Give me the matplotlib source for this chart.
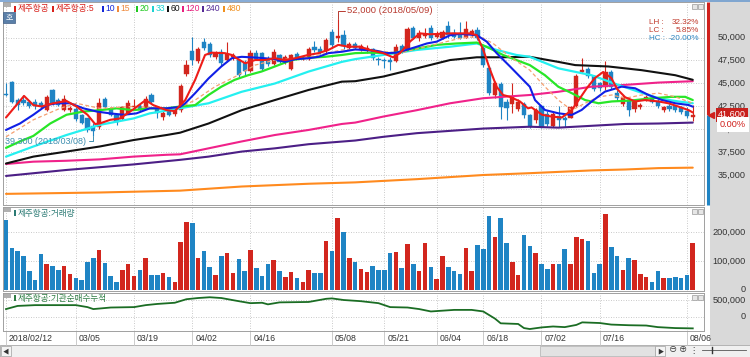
import matplotlib
matplotlib.use('Agg')
import matplotlib.pyplot as plt
from matplotlib.patches import Rectangle
import numpy as np

plt.rcParams['font.family'] = ['Liberation Sans', 'Noto Sans CJK KR', 'DejaVu Sans']

W, H = 750, 357

# ---------------- data ----------------
date_labels = ['2018/02/12', '03/05', '03/19', '04/02', '04/16', '05/08',
               '05/21', '06/04', '06/18', '07/02', '07/16', '08/06']
label_idx = [0, 12, 22, 32, 42, 56, 65, 74, 82, 92, 102, 117]

opens = [43850, 45200, 43200, 43200, 43000, 43000, 42900, 42100, 44300, 43200,
         42100, 42100, 42200, 41600, 41200, 40400, 40300, 43300, 42200, 41600,
         41100, 41800, 42400, 42600, 42300, 43700, 42400, 41400, 42100, 41700,
         42100, 46000, 48500, 47400, 49500, 49300, 47900, 48400, 47600, 47900,
         47600, 47200, 46400, 48300, 48300, 47600, 47100, 48100, 47300, 46600,
         48200, 47700, 47700, 49000, 48800, 48500, 50600, 49900, 50300, 48900,
         49300, 48700, 48600, 48700, 47700, 47600, 47600, 47400, 49100, 48800,
         51000, 49900, 50200, 51000, 50100, 50000, 51200, 50500, 50300, 50000,
         50400, 50800, 48900, 46700, 43700, 44900, 43000, 42800, 42200, 42800,
         41600, 41000, 42500, 41700, 40400, 41500, 41300, 41300, 42500, 46300,
         46600, 45800, 45000, 44600, 46300, 44000, 42800, 43200, 42200, 42400,
         43300, 43400, 43100, 42100, 42600, 42500, 42400, 42000, 41400]
highs = [45000, 45300, 43400, 43700, 43200, 43300, 43100, 43700, 44400, 43400,
         43700, 42500, 42400, 41700, 41300, 40700, 43400, 43500, 42300, 41700,
         42500, 43200, 43300, 42800, 43600, 44000, 42500, 42200, 42200, 42300,
         44900, 47600, 50100, 49000, 49900, 49500, 48500, 48800, 49500, 48300,
         47700, 47500, 48600, 48600, 48400, 48000, 48700, 48200, 48100, 48200,
         48400, 48000, 49000, 49600, 49100, 49900, 50900, 52000, 50800, 49500,
         49500, 49300, 49200, 48900, 47900, 47800, 47900, 49300, 49300, 51100,
         51300, 50800, 51000, 51400, 50700, 50800, 51800, 50900, 51700, 51800,
         50900, 51100, 49200, 46900, 45300, 45200, 43300, 45000, 43300, 43000,
         41700, 42300, 42700, 42000, 41900, 42500, 41500, 42600, 46000, 47800,
         46800, 45900, 45200, 47400, 46500, 44300, 43800, 43400, 43300, 42900,
         43700, 43600, 43300, 42600, 42800, 42700, 42600, 42400, 42700]
lows = [43600, 42900, 42100, 42700, 42300, 42200, 42300, 42000, 42700, 42500,
        42000, 41900, 40900, 40600, 39700, 39300, 40100, 42300, 41500, 40500,
        41000, 41700, 42100, 42000, 42200, 42900, 41200, 41000, 41500, 41500,
        41900, 45800, 47000, 47200, 48600, 47900, 47700, 46900, 47400, 47500,
        45700, 45900, 46200, 47600, 46400, 46900, 47000, 47200, 47100, 46500,
        47700, 47500, 47600, 48400, 48200, 48300, 48900, 49500, 48800, 48600,
        48700, 48500, 48300, 47600, 47000, 46700, 46500, 47300, 48300, 48700,
        49800, 49600, 49900, 49700, 49900, 49800, 50000, 49900, 49800, 49900,
        50100, 49700, 46800, 43800, 43400, 41100, 41000, 41800, 42000, 41300,
        40200, 40700, 40200, 40400, 40300, 40300, 40300, 41200, 42400, 46100,
        45600, 44200, 44200, 44300, 44400, 43100, 42600, 41500, 41900, 42200,
        43100, 42900, 42300, 41900, 42000, 41900, 41700, 41300, 40900]
closes = [43700, 43000, 42700, 42900, 42500, 42600, 42500, 43500, 42800, 42700,
          43300, 42300, 41100, 40700, 39900, 39800, 42900, 42400, 41600, 40800,
          42400, 42900, 42600, 42100, 43300, 43000, 41800, 41800, 41600, 42200,
          44700, 47000, 47600, 48800, 48900, 48100, 48300, 47200, 48200, 48100,
          45900, 46400, 48300, 47700, 46600, 47100, 48400, 47300, 47900, 48100,
          47800, 47900, 48800, 48600, 48400, 49700, 49200, 50200, 49100, 49300,
          48900, 49100, 48900, 47800, 47500, 47400, 47300, 49000, 48500, 50900,
          50000, 50500, 50400, 49900, 50400, 50600, 50300, 50100, 50000, 50900,
          50700, 50000, 47000, 44000, 45000, 42400, 42300, 43500, 43000, 41600,
          40300, 42100, 40300, 40600, 41700, 41000, 41000, 42400, 45800, 46500,
          45800, 44400, 44500, 46300, 44600, 43400, 43500, 42100, 43100, 42700,
          43500, 43000, 42500, 42400, 42200, 42100, 41900, 41500, 41600]
volumes = [241, 145, 133, 118, 64, 36, 125, 91, 83, 68,
           83, 55, 41, 36, 98, 111, 139, 93, 48, 28,
           68, 91, 48, 70, 111, 50, 51, 59, 45, 27,
           165, 236, 232, 111, 133, 80, 50, 116, 127, 59,
           108, 66, 139, 75, 48, 91, 105, 66, 45, 63,
           43, 28, 70, 57, 57, 170, 136, 248, 200, 110,
           95, 73, 63, 82, 70, 68, 127, 130, 75, 159,
           91, 66, 161, 80, 39, 118, 80, 66, 55, 143,
           66, 155, 141, 256, 184, 248, 161, 95, 50, 191,
           153, 127, 89, 74, 91, 91, 142, 89, 184, 175,
           168, 57, 91, 261, 147, 118, 70, 111, 102, 55,
           45, 27, 66, 43, 41, 45, 43, 50, 162]  # thousand shares

ma5_x = [0, 3.1, 4.7, 6.1, 8.1, 10.4, 12.1, 14, 15.3, 16.1, 17.9, 19.6, 21.9, 24,
         25.3, 27.6, 29, 30.8, 32.5, 34.2, 35.3, 37.6, 38.8, 39.6, 41.1, 42.8, 44.5,
         46.2, 47.9, 49.7, 51.9, 53.7, 55.4, 57.1, 58.8, 60.8, 62.5, 64.8, 66.5, 67.7,
         69.4, 71.1, 72.8, 74.6, 76.3, 78, 79.7, 80.9, 82, 83.2, 84.3, 85.4, 86.6,
         88.3, 89.7, 90.3, 92.1, 93.8, 95.5, 97.2, 98.4, 99.8, 101.2, 102.6, 104,
         105, 106.4, 108.1, 109.8, 112.1, 113.8, 115.5, 117.3, 118]
ma5_y = [41300, 43650, 42650, 42500, 42850, 43100, 42500, 41600, 40600, 40650,
         41050, 41200, 42200, 43200, 42650, 42100, 42000, 43200, 45400, 48100,
         48350, 48300, 48100, 47750, 47200, 47550, 47550, 47750, 47550, 47750,
         48100, 48300, 48650, 49200, 49000, 49000, 48650, 48300, 47850, 48300,
         49550, 50450, 50350, 50400, 50450, 50450, 50450, 50250, 48650, 46450,
         44650, 43750, 43550, 43050, 42300, 42400, 41600, 41400, 41300, 42100,
         43200, 44500, 45600, 46250, 45600, 44400, 43500, 43050, 43200, 43050,
         42850, 42500, 42100, 41850]
ma10_x = [0, 2.4, 4.7, 7, 8.7, 11, 13.3, 15.6, 17.9, 20.2, 22.4, 24.7, 27.6, 29.9,
          30.8, 32.5, 34.8, 37, 38.8, 40.5, 43.4, 46.2, 47.9, 49.7, 52, 53.7, 55.4,
          57.7, 60, 61.4, 63.7, 65.4, 67.1, 68.8, 70.6, 72.3, 74, 76.3, 78, 80.9,
          82.6, 84.3, 86.6, 88.3, 90, 90.9, 92.6, 94.9, 97.2, 98.9, 100.6, 102.9,
          105.8, 108.1, 110.4, 112.7, 115, 117.3, 118]
ma10_y = [39950, 40650, 41600, 42650, 42850, 42850, 42300, 41950, 41750, 41600,
          41750, 42300, 42300, 42450, 42850, 43950, 45550, 46850, 47750, 47900,
          47800, 47650, 47350, 47650, 47750, 47900, 48300, 48450, 48700, 48650,
          48550, 48300, 48350, 48650, 49000, 49350, 49550, 50250, 50400, 50250,
          49550, 48300, 46850, 45750, 44650, 43200, 42120, 41760, 41580, 42120,
          43030, 44110, 44660, 44480, 43750, 43210, 42850, 42660, 42480]
ma15_x = [0, 4.7, 9.3, 12.1, 16.1, 21.9, 27.6, 29.9, 32.5, 35.9, 39.4, 42.8, 46.2,
          52, 57.7, 60, 62, 67.7, 73.4, 78.6, 81.4, 83.7, 86.6, 90, 92.6, 94.9,
          97.2, 99.5, 101.8, 104.1, 106.4, 109.2, 112.1, 115, 118]
ma15_y = [39200, 41050, 42300, 42850, 42300, 42500, 42300, 42400, 43200, 44650,
          45750, 47000, 47550, 47850, 48650, 48700, 48650, 48300, 49200, 50000,
          50100, 49350, 47900, 46450, 44650, 43200, 42100, 42850, 43550, 43750,
          43400, 43750, 43950, 43550, 42850]
ma20_x = [0, 2.4, 4.7, 7.6, 10.4, 13.3, 16.1, 19, 21.9, 24.7, 27.6, 29.9, 32.5,
          34.8, 37, 39.3, 41.6, 43.9, 46.2, 49.1, 52, 54.8, 57.7, 60, 62.5, 66.5,
          70.6, 74, 77.4, 80.9, 83.2, 85.4, 87.7, 90, 92.6, 94.9, 97.2, 99.5,
          101.8, 104.1, 107.5, 111, 114.4, 116.7, 118]
ma20_y = [38000, 38700, 39300, 40650, 41600, 41950, 42100, 42300, 42100, 42300,
          42300, 42500, 42650, 43750, 44650, 45400, 45900, 46300, 46850, 47550,
          47800, 47900, 48100, 48300, 48350, 48300, 48800, 49200, 49350, 49450,
          48800, 48100, 47550, 47000, 45900, 44650, 43950, 43200, 42850, 43050,
          43150, 43400, 43550, 43550, 43200]
ma33_x = [0, 4.7, 10.4, 16.1, 21.9, 24.7, 29.9, 34.8, 40.5, 46.2, 52, 57.7, 60,
          64.8, 70.6, 76.3, 80.9, 84.3, 87.7, 90, 94.9, 100.6, 105.2, 108.7, 112.1,
          115.5, 118]
ma33_y = [37050, 38150, 39400, 40500, 41200, 41750, 42300, 42850, 44100, 45000,
          46300, 47350, 47650, 48100, 48650, 49000, 49350, 48650, 48100, 47900,
          46650, 45900, 44850, 44100, 43400, 43050, 42850]
ma60_x = [0, 4.7, 10.4, 16.1, 21.9, 27.6, 29.9, 34.8, 40.5, 46.2, 52, 57.7, 60,
          64.8, 70.6, 76.3, 80.9, 84.9, 90, 94.9, 97.8, 103.5, 109.2, 115, 118]
ma60_y = [36300, 37050, 37600, 38150, 38850, 39400, 39650, 40650, 42100, 43200,
          44300, 45200, 45250, 45750, 46650, 47550, 47850, 47850, 47900, 47350,
          47000, 46850, 46450, 45900, 45400]
ma120_x = [0, 4.7, 10.4, 16.1, 21.9, 27.6, 29.9, 34.8, 40.5, 46.2, 52, 57.7, 60,
           64.8, 70.6, 76.3, 82, 87.7, 90, 94.9, 100.6, 106.4, 112.1, 118]
ma120_y = [36250, 36500, 36600, 36750, 37050, 37250, 37300, 37950, 38700, 39400,
           39950, 40600, 40750, 41400, 42100, 42850, 43400, 43650, 43750, 44100,
           44650, 44850, 45100, 45250]
ma240_x = [0, 10.4, 21.9, 29.9, 34.8, 40.5, 46.2, 52, 60, 64.8, 70.6, 76.3, 82,
           90, 94.9, 100.6, 106.4, 112.1, 118]
ma240_y = [34950, 35600, 36200, 36700, 37050, 37600, 37950, 38400, 38800, 39200,
           39600, 39850, 40100, 40300, 40200, 40400, 40600, 40650, 40750]
ma480_x = [0, 16.1, 29.9, 40.5, 52, 60, 70.6, 82, 90, 100.6, 106.4, 112.1, 118]
ma480_y = [33000, 33150, 33350, 33800, 34100, 34250, 34600, 35050, 35250, 35550,
           35650, 35800, 35850]

inst_x = [0, 2, 5, 12, 14, 15, 18, 22, 24, 26, 29, 31, 33, 35, 37, 40, 42, 44, 45,
          47, 52, 55, 56, 58, 61, 64, 66, 69, 71, 73, 75, 77, 80, 82, 84, 85, 88,
          89, 90, 92, 94, 96, 98, 99, 102, 104, 107, 110, 112, 115, 118]
inst_y = [233, 326, 349, 349, 291, 233, 279, 291, 349, 384, 419, 523, 558, 581,
          558, 465, 407, 419, 372, 430, 442, 535, 547, 500, 465, 407, 291, 279,
          233, 163, 186, 209, 209, 163, -46, -186, -205, -326, -354, -307, -279,
          -298, -233, -158, -177, -223, -242, -251, -298, -326, -335]  # thousand

price_ticks = [35000, 37500, 40000, 42500, 45000, 47500, 50000]
vol_ticks = [0, 100000, 200000]
inst_ticks = [0, 500000]
last_price = 41600
hi_idx, hi_val = 57, 52000
lo_idx, lo_val = 15, 39300

legend_names = ['제주항공', '제주항공:5', '10', '15', '20', '33', '60', '120', '240', '480']
legend_colors = ['#d8201a', '#d8201a', '#1428d8', '#f08a3c', '#1ec81e', '#1ed2d2',
                 '#111111', '#e8207e', '#562a96', '#f0901e']
legend_xpos = [14, 52, 102, 117, 136, 152, 167, 182, 202, 223]

RED = '#d2261e'
BLUE = '#1f84c4'
GRID = '#b8b8b8'


def px_rect(x0, y0, x1, y1):
    return [x0 / W, 1 - y1 / H, (x1 - x0) / W, (y1 - y0) / H]


fig = plt.figure(figsize=(W / 100, H / 100), dpi=100)
fig.patch.set_facecolor('white')

# background decoration layer (pixel coordinates)
bg = fig.add_axes([0, 0, 1, 1], zorder=-5)
bg.set_xlim(0, W)
bg.set_ylim(H, 0)
bg.axis('off')
bg.add_patch(Rectangle((710, 0), 40, 345, fc='#d9d9d9', ec='none'))
bg.add_patch(Rectangle((0, 345), W, 12, fc='#f0f0f0', ec='#a8a8a8', lw=0.6))
bg.plot([0, W], [0.6, 0.6], color='#6f9ccf', lw=1.2)

ax = fig.add_axes(px_rect(3, 2, 704, 205))
axv = fig.add_axes(px_rect(3, 207, 704, 291))
axi = fig.add_axes(px_rect(3, 293, 704, 331))

xlim = (-0.515, 119.93)
for p in (ax, axv, axi):
    p.set_facecolor('white')
    p.set_xlim(*xlim)
    p.tick_params(left=False, bottom=False, labelleft=False, labelbottom=False)
    for s in p.spines.values():
        s.set_color('#a0a0a0')
        s.set_linewidth(0.7)
    for i in label_idx:
        p.axvline(i, color=GRID, ls=(0, (1, 2)), lw=0.6, zorder=0)

ax.set_ylim(31790, 53860)
axv.set_ylim(-3500, 286000)
axi.set_ylim(-412000, 706000)

for v in price_ticks:
    ax.axhline(v, color=GRID, ls=(0, (1, 2)), lw=0.6, zorder=0)
for v in vol_ticks[1:]:
    axv.axhline(v, color=GRID, ls=(0, (1, 2)), lw=0.6, zorder=0)
for v in inst_ticks:
    axi.axhline(v, color=GRID, ls=(0, (1, 2)), lw=0.6, zorder=0)

# ---- candles ----
idx = np.arange(len(closes))
o, h, l, c = (np.array(a) for a in (opens, highs, lows, closes))
up = c >= o
col = np.where(up, RED, BLUE)
ax.vlines(idx, l, h, colors=col, lw=0.8, zorder=3)
ax.bar(idx, np.maximum(np.abs(c - o), 70), bottom=np.minimum(o, c), width=0.72,
       color=col, edgecolor=col, lw=0.3, zorder=4)

# ---- moving averages ----
mas = [
    (ma480_x, ma480_y, '#ff8a1e', 1.5, '-'),
    (ma240_x, ma240_y, '#4c1f86', 1.5, '-'),
    (ma120_x, ma120_y, '#f0228a', 1.5, '-'),
    (ma60_x, ma60_y, '#111111', 1.5, '-'),
    (ma33_x, ma33_y, '#24f0f0', 1.6, '-'),
    (ma20_x, ma20_y, '#28e628', 1.6, '-'),
    (ma15_x, ma15_y, '#f5a070', 0.9, (0, (3, 2))),
    (ma10_x, ma10_y, '#1020e6', 1.5, '-'),
    (ma5_x, ma5_y, '#ee1c18', 1.5, '-'),
]
for mx, my, mc, lw, ls in mas:
    ax.plot(mx, my, color=mc, lw=lw, ls=ls, zorder=5, solid_capstyle='round')

# high / low annotations
ax.annotate(f'{hi_val:,} (2018/05/09)', xy=(hi_idx, hi_val), xytext=(7, 6),
            textcoords='offset points', ha='left', va='center', fontsize=6.8,
            color='#b83a30', zorder=6,
            arrowprops=dict(arrowstyle='-', color='#b83a30', lw=0.7, shrinkA=0, shrinkB=0,
                            relpos=(0, 0.5),
                            connectionstyle='angle,angleA=0,angleB=90,rad=0'))
ax.annotate(f'{lo_val:,} (2018/03/08)', xy=(lo_idx, lo_val), xytext=(-5, -4),
            textcoords='offset points', ha='right', va='center', fontsize=6.5,
            color='#3f8fb0', zorder=6,
            arrowprops=dict(arrowstyle='-', color='#3f8fb0', lw=0.7, shrinkA=0, shrinkB=0,
                            relpos=(1, 0.5),
                            connectionstyle='angle,angleA=0,angleB=90,rad=0'))

# right scale labels (40,000 sits under the current-price box, as in the source)
xr = (746 - 3) / 701
ytr = ax.get_yaxis_transform()
for v in price_ticks:
    ax.text(xr, v, f'{v:,}', transform=ytr, ha='right', va='center', fontsize=6.6,
            color='#333333', clip_on=False, zorder=2)
for v in vol_ticks:
    axv.text(xr, v, f'{v:,}', transform=axv.get_yaxis_transform(), ha='right',
             va='center', fontsize=6.6, color='#333333', clip_on=False)
for v in inst_ticks:
    axi.text(xr, v, f'{v:,}', transform=axi.get_yaxis_transform(), ha='right',
             va='center', fontsize=6.6, color='#333333', clip_on=False)

# current price marker
xb = (707.8 - 3) / 701
ax.plot([xb, xb], [last_price, 53860], transform=ytr, color='#d0201c', lw=2.2,
        clip_on=False, solid_capstyle='butt')
ax.plot([xb, xb], [31790, last_price], transform=ytr, color='#1f84c4', lw=2.2,
        clip_on=False, solid_capstyle='butt')
ax.plot([(711 - 3) / 701], [last_price], transform=ytr, marker='<', ms=4.5,
        color='#d0201c', clip_on=False)
ax.text(xr, last_price, f'{last_price:,}', transform=ytr, ha='right', va='center',
        fontsize=6.6, color='white', clip_on=False, zorder=8,
        bbox=dict(boxstyle='square,pad=0.25', fc='#c8201c', ec='none'))
ax.text(xr, last_price - 1050, '0.00%', transform=ytr, ha='right', va='center',
        fontsize=6.6, color='#d0201c', clip_on=False, zorder=8,
        bbox=dict(boxstyle='square,pad=0.3', fc='white', ec='none'))

# ---- volume ----
axv.bar(idx, np.array(volumes) * 1000, width=0.78, color=col, zorder=3)

# ---- institutional cumulative net buying ----
axi.plot(inst_x, np.array(inst_y) * 1000, color='#1b6d24', lw=1.3, zorder=3)

# date labels under the lower panel
xtr = axi.get_xaxis_transform()
for i, lab in zip(label_idx, date_labels):
    axi.plot([i, i], [0, -0.36], transform=xtr, color='#c4c4c4', lw=0.6, clip_on=False)
    axi.text(i + 0.5, -0.19, lab, transform=xtr, ha='left', va='center', fontsize=6.3,
             color='#333333', clip_on=False)

# foreground decoration layer (pixel coordinates)
fg = fig.add_axes([0, 0, 1, 1], zorder=10)
fg.set_xlim(0, W)
fg.set_ylim(H, 0)
fg.axis('off')
fg.patch.set_alpha(0)

for x0, name, color in zip(legend_xpos, legend_names, legend_colors):
    fg.add_patch(Rectangle((x0, 5.5), 2, 6, fc=color, ec='none'))
    fg.text(x0 + 3.5, 8.8, name, fontsize=6.2, color=color, va='center', ha='left')
fg.add_patch(Rectangle((3, 12), 12, 11, fc='#5a7fa8', ec='#3f5f86', lw=0.5))
fg.text(9, 17.5, '호', fontsize=5.8, color='white', ha='center', va='center')
for y in (3, 208, 294):
    fg.add_patch(Rectangle((4, y), 7, 4, fc='#b0b0b0', ec='none'))
    fg.add_patch(Rectangle((692, y + 1), 5, 5, fc='#e6e6e6', ec='#9a9a9a', lw=0.5))
    fg.add_patch(Rectangle((698, y + 1), 5, 5, fc='#e6e6e6', ec='#9a9a9a', lw=0.5))

fg.add_patch(Rectangle((14, 210), 2, 6, fc='#2b7a74', ec='none'))
fg.text(17.5, 213.3, '제주항공:거래량', fontsize=6.2, color='#2b7a74', va='center')
fg.add_patch(Rectangle((14, 295), 2, 6, fc='#2f7d44', ec='none'))
fg.text(17.5, 298.3, '제주항공:기관순매수누적', fontsize=6.2, color='#2f7d44', va='center')

for k, (lab, val, colr) in enumerate([('LH :', '32.32%', '#c0392b'),
                                       ('LC :', '5.85%', '#c0392b'),
                                       ('HC :', '-20.00%', '#2e86c1')]):
    yy = 23 + 8 * k
    fg.text(649, yy, lab, fontsize=5.9, color=colr, va='center', ha='left')
    fg.text(699, yy, val, fontsize=5.9, color=colr, va='center', ha='right')

# scrollbar
fg.add_patch(Rectangle((0.5, 346), 10, 10, fc='#f4f4f4', ec='#a0a0a0', lw=0.5))
fg.text(5.5, 351, '◀', fontsize=4.5, color='#333333', ha='center', va='center')
fg.add_patch(Rectangle((540, 346), 115, 10, fc='#e2e2e2', ec='#b0b0b0', lw=0.5))
fg.add_patch(Rectangle((655, 346), 10, 10, fc='#f4f4f4', ec='#a0a0a0', lw=0.5))
fg.text(660, 351, '▶', fontsize=4.5, color='#333333', ha='center', va='center')
fg.text(673, 351, '⊖', fontsize=6, color='#333333', ha='center', va='center')
fg.text(683, 351, '⊕', fontsize=6, color='#333333', ha='center', va='center')
fg.text(693, 351, '⋮', fontsize=6, color='#333333', ha='center', va='center')
fg.plot([702, 746], [350, 350], color='#555555', lw=0.6)
fg.plot([712, 712], [347, 353], color='#333333', lw=1.0)

fig.savefig('out.png', dpi=100, facecolor='white')
